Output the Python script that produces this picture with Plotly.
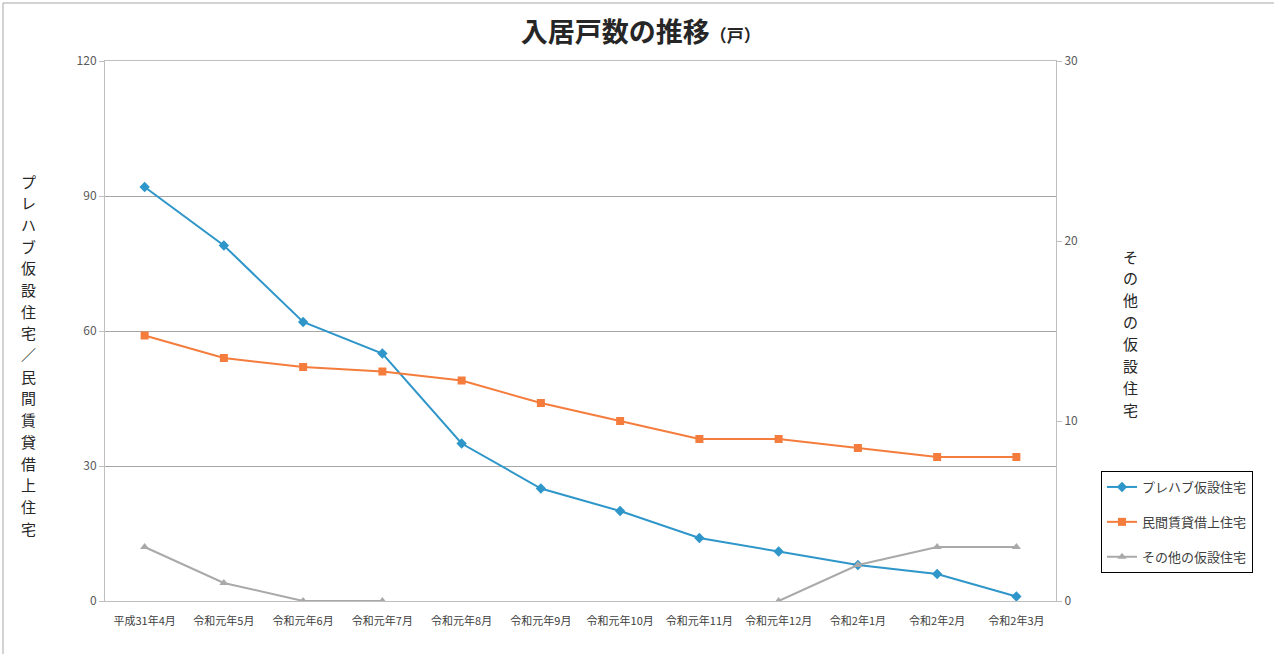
import plotly.graph_objects as go

categories = ["平成31年4月", "令和元年5月", "令和元年6月", "令和元年7月", "令和元年8月", "令和元年9月",
              "令和元年10月", "令和元年11月", "令和元年12月", "令和2年1月", "令和2年2月", "令和2年3月"]
prefab = [92, 79, 62, 55, 35, 25, 20, 14, 11, 8, 6, 1]
private_rental = [59, 54, 52, 51, 49, 44, 40, 36, 36, 34, 32, 32]
other_temp = [3, 1, 0, 0, None, None, None, None, 0, 2, 3, 3]

names = ["プレハブ仮設住宅", "民間賃貸借上住宅", "その他の仮設住宅"]
left_title_text = "プレハブ仮設住宅／民間賃貸借上住宅"
right_title_text = "その他の仮設住宅"
FONT = "Noto Sans CJK JP"

fig = go.Figure()
fig.add_trace(go.Scatter(x=categories, y=prefab, name=names[0], mode="lines+markers",
                         line=dict(color="#2E96C9", width=2),
                         marker=dict(symbol="diamond", size=8, color="#2E96C9"),
                         legendgroup="a"))
fig.add_trace(go.Scatter(x=categories, y=private_rental, name=names[1], mode="lines+markers",
                         line=dict(color="#F47C3C", width=2),
                         marker=dict(symbol="square", size=8, color="#F47C3C"),
                         legendgroup="b"))
fig.add_trace(go.Scatter(x=categories, y=other_temp, name=names[2], mode="lines+markers",
                         line=dict(color="#A9A9A9", width=2),
                         marker=dict(symbol="triangle-up", size=8, color="#A9A9A9"),
                         connectgaps=False, yaxis="y2", legendgroup="c"))

W, H = 1274, 654
L, R, T, B = 105, 1056, 61, 601

def px(x):
    return (x - L) / (R - L)

def py(y):
    return (B - y) / (B - T)

fig.update_layout(
    width=W, height=H,
    margin=dict(l=L, r=W - R, t=T, b=H - B),
    paper_bgcolor="white", plot_bgcolor="white",
    font=dict(family=FONT, color="#595959", size=11),
    showlegend=True,
    title=dict(text="<b>入居戸数の推移</b><span style='font-size:17px'><b>（戸）</b></span>",
               x=0.503, xref="container", xanchor="center",
               y=1 - 33 / H, yref="container", yanchor="middle",
               font=dict(family=FONT, size=27, color="#262626")),
    xaxis=dict(type="category", range=[-0.5, 11.5], showgrid=False,
               showline=True, linecolor="#BFBFBF", linewidth=1, mirror=True,
               ticks="", tickfont=dict(size=11, color="#404040"), ticklabelstandoff=10),
    yaxis=dict(range=[0, 120], tickvals=[0, 30, 60, 90, 120], showgrid=True,
               gridcolor="#A6A6A6", gridwidth=1, zeroline=False,
               showline=True, linecolor="#BFBFBF", linewidth=1,
               ticks="outside", ticklen=5, tickcolor="#BFBFBF",
               tickfont=dict(size=12, color="#595959")),
    yaxis2=dict(range=[0, 30], tickvals=[0, 10, 20, 30], overlaying="y", side="right",
                showgrid=False, zeroline=False,
                showline=True, linecolor="#BFBFBF", linewidth=1,
                ticks="outside", ticklen=5, tickcolor="#BFBFBF",
                tickfont=dict(size=12, color="#595959")),
    legend=dict(x=px(1101), y=py(471), xanchor="left", yanchor="top",
                bordercolor="#000000", borderwidth=1, bgcolor="white",
                font=dict(size=13, color="#404040"),
                traceorder="grouped", tracegroupgap=15),
)

# vertical (stacked) axis titles, one character per annotation
def stacked(text, xc, y_first, step):
    for i, ch in enumerate(text):
        fig.add_annotation(text=ch, xref="paper", yref="paper", x=px(xc), y=py(y_first + i * step),
                           xanchor="center", yanchor="middle", showarrow=False, borderpad=0,
                           font=dict(family=FONT, size=15, color="#262626"))

stacked(left_title_text, 28, 181, 21.7)
stacked(right_title_text, 1130, 256, 21.9)

fig.add_shape(type="rect", xref="paper", yref="paper",
              x0=px(3), x1=px(1300), y0=py(680), y1=py(3),
              line=dict(color="#A6A6A6", width=1), fillcolor="rgba(0,0,0,0)", layer="below")

fig.write_html("out.html", config={"displayModeBar": False},
               post_script="document.body.style.margin='0px';")
